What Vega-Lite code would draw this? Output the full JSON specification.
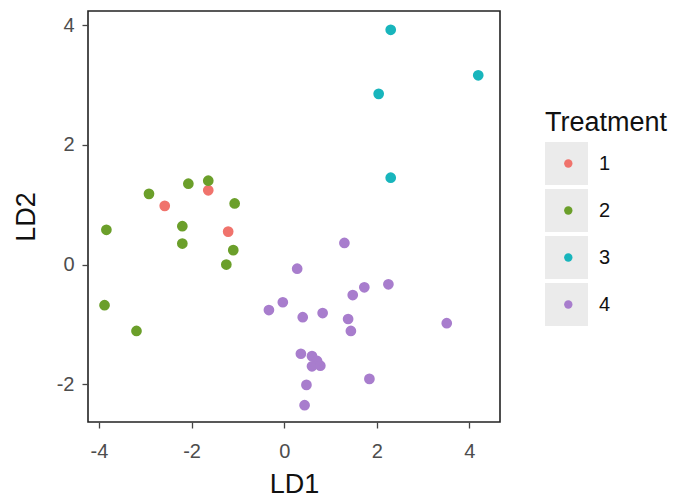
{
  "$schema": "https://vega.github.io/schema/vega-lite/v6.json",
  "width": 412,
  "height": 411,
  "autosize": "none",
  "padding": {"left": 88, "top": 11, "right": 180, "bottom": 78},
  "background": "white",
  "config": {
    "font": "Liberation Sans",
    "view": {"stroke": "#222222", "strokeWidth": 1.6},
    "axis": {
      "grid": false,
      "domain": false,
      "tickColor": "#444444",
      "tickSize": 6,
      "tickWidth": 1.3,
      "labelColor": "#4d4d4d",
      "labelFontSize": 20,
      "labelPadding": 8,
      "labelExpr": "datum.value < 0 ? '-' + abs(datum.value) : '' + datum.value",
      "titleFontSize": 27,
      "titleFontWeight": "normal",
      "titleColor": "#111111"
    },
    "axisX": {"labelPadding": 13, "titlePadding": 10},
    "axisY": {"titlePadding": 16},
    "legend": {
      "orient": "none",
      "legendX": 457,
      "titleFontSize": 27,
      "titleFontWeight": "normal",
      "titleColor": "#111111",
      "titlePadding": 5,
      "labelFontSize": 20,
      "labelColor": "#111111",
      "labelBaseline": "middle",
      "clipHeight": 43,
      "rowPadding": 4,
      "symbolStrokeWidth": 0
    }
  },
  "data": {
    "values": [
      {"LD1": -2.58, "LD2": 0.98, "Treatment": "1"},
      {"LD1": -1.64, "LD2": 1.24, "Treatment": "1"},
      {"LD1": -1.21, "LD2": 0.55, "Treatment": "1"},
      {"LD1": -2.92, "LD2": 1.18, "Treatment": "2"},
      {"LD1": -2.07, "LD2": 1.35, "Treatment": "2"},
      {"LD1": -1.64, "LD2": 1.40, "Treatment": "2"},
      {"LD1": -1.07, "LD2": 1.02, "Treatment": "2"},
      {"LD1": -3.84, "LD2": 0.58, "Treatment": "2"},
      {"LD1": -2.20, "LD2": 0.64, "Treatment": "2"},
      {"LD1": -2.20, "LD2": 0.35, "Treatment": "2"},
      {"LD1": -1.10, "LD2": 0.24, "Treatment": "2"},
      {"LD1": -1.25, "LD2": 0.00, "Treatment": "2"},
      {"LD1": -3.88, "LD2": -0.68, "Treatment": "2"},
      {"LD1": -3.19, "LD2": -1.11, "Treatment": "2"},
      {"LD1": 2.30, "LD2": 3.92, "Treatment": "3"},
      {"LD1": 4.19, "LD2": 3.16, "Treatment": "3"},
      {"LD1": 2.04, "LD2": 2.85, "Treatment": "3"},
      {"LD1": 2.30, "LD2": 1.45, "Treatment": "3"},
      {"LD1": 1.30, "LD2": 0.36, "Treatment": "4"},
      {"LD1": 0.28, "LD2": -0.07, "Treatment": "4"},
      {"LD1": 2.25, "LD2": -0.33, "Treatment": "4"},
      {"LD1": 1.73, "LD2": -0.38, "Treatment": "4"},
      {"LD1": 1.48, "LD2": -0.51, "Treatment": "4"},
      {"LD1": -0.33, "LD2": -0.76, "Treatment": "4"},
      {"LD1": -0.03, "LD2": -0.63, "Treatment": "4"},
      {"LD1": 0.40, "LD2": -0.88, "Treatment": "4"},
      {"LD1": 0.83, "LD2": -0.81, "Treatment": "4"},
      {"LD1": 1.38, "LD2": -0.91, "Treatment": "4"},
      {"LD1": 1.44, "LD2": -1.11, "Treatment": "4"},
      {"LD1": 3.51, "LD2": -0.98, "Treatment": "4"},
      {"LD1": 0.36, "LD2": -1.49, "Treatment": "4"},
      {"LD1": 0.60, "LD2": -1.53, "Treatment": "4"},
      {"LD1": 0.71, "LD2": -1.61, "Treatment": "4"},
      {"LD1": 0.60, "LD2": -1.70, "Treatment": "4"},
      {"LD1": 0.78, "LD2": -1.69, "Treatment": "4"},
      {"LD1": 1.84, "LD2": -1.91, "Treatment": "4"},
      {"LD1": 0.48, "LD2": -2.01, "Treatment": "4"},
      {"LD1": 0.44, "LD2": -2.35, "Treatment": "4"}
    ]
  },
  "encoding": {
    "x": {
      "field": "LD1", "type": "quantitative",
      "scale": {"domain": [-4.237, 4.66], "nice": false, "zero": false},
      "axis": {"values": [-4, -2, 0, 2, 4], "title": "LD1"}
    },
    "y": {
      "field": "LD2", "type": "quantitative",
      "scale": {"domain": [-2.63, 4.234], "nice": false, "zero": false},
      "axis": {"values": [-2, 0, 2, 4], "title": "LD2"}
    }
  },
  "layer": [
    {
      "mark": {"type": "point", "filled": true, "opacity": 1, "size": 0, "color": "#ebebeb"},
      "encoding": {
        "shape": {
          "field": "Treatment", "type": "nominal",
          "scale": {"range": ["square", "square", "square", "square"]},
          "legend": {
            "title": "Treatment",
            "legendY": 99,
            "zindex": 0,
            "symbolType": "square",
            "symbolSize": 1849,
            "symbolOffset": 0,
            "labelOffset": 11
          }
        }
      }
    },
    {
      "mark": {"type": "point", "filled": true, "opacity": 1, "size": 115},
      "encoding": {
        "color": {
          "field": "Treatment", "type": "nominal",
          "scale": {"domain": ["1", "2", "3", "4"], "range": ["#f0736c", "#6b9f2a", "#18b5bc", "#a87dcd"]},
          "legend": {
            "title": null,
            "legendY": 131,
            "zindex": 1,
            "symbolType": "circle",
            "symbolSize": 70,
            "symbolOffset": 13.3,
            "labelOffset": 0,
            "labelExpr": "''"
          }
        }
      }
    }
  ]
}
